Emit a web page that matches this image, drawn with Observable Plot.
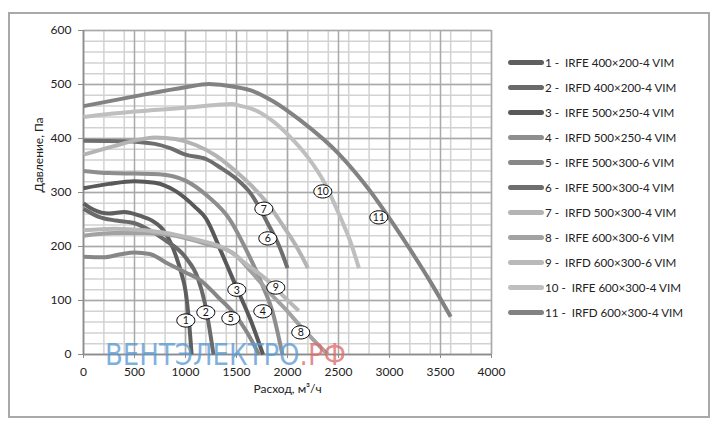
<!DOCTYPE html>
<html><head><meta charset="utf-8">
<script src="https://cdn.jsdelivr.net/npm/d3@7"></script>
<script src="https://cdn.jsdelivr.net/npm/@observablehq/plot@0.6"></script>
<style>
body{margin:0;background:#fff;}
#wrap{position:relative;width:717px;height:425px;font-family:Lato,"Open Sans",sans-serif;overflow:hidden;}
#frame{position:absolute;left:8px;top:12px;width:702px;height:406px;border:2px solid #a9a9a9;box-sizing:border-box;}
#chart{position:absolute;left:0;top:0;}
#legend{position:absolute;left:0;top:0;width:717px;height:425px;pointer-events:none;}
.row{position:absolute;left:508px;height:16px;display:flex;align-items:center;}
.sw{width:36px;height:5px;border-radius:3px;}
.lt{white-space:pre;font-size:11.6px;color:#222;margin-left:1px;}
#wm{position:absolute;left:0;top:0;}
</style>
</head><body>
<div id="wrap"><div id="frame"></div><div id="chart"></div><div id="legend"></div>
<svg id="wm" width="717" height="425"><text x="105" y="365" font-family="'Liberation Sans Narrow','DejaVu Sans Condensed',sans-serif" font-size="30" textLength="241" lengthAdjust="spacingAndGlyphs"><tspan fill="#5b9bd5" fill-opacity="0.78">ВЕНТЭЛЕКТРО</tspan><tspan fill="#e06c6c" fill-opacity="0.78">.РФ</tspan></text></svg>
</div>
<script>
const seriesNames = ["1 -  IRFE 400×200-4 VIM","2 -  IRFD 400×200-4 VIM","3 -  IRFE 500×250-4 VIM","4 -  IRFD 500×250-4 VIM","5 -  IRFE 500×300-6 VIM","6 -  IRFE 500×300-4 VIM","7 -  IRFD 500×300-4 VIM","8 -  IRFE 600×300-6 VIM","9 -  IRFD 600×300-6 VIM","10 -  IRFE 600×300-4 VIM","11 -  IRFD 600×300-4 VIM"];
const seriesColors = ["#5f5f5f","#6a6a6a","#595959","#8e8e8e","#878787","#6e6e6e","#b4b4b4","#a2a2a2","#b9b9b9","#bfbfbf","#828282"];
const curve1 = [[0,280],[100,268],[250,261],[400,264],[550,257],[680,247],[800,226],[900,186],[960,150],[1000,118],[1035,60],[1060,0]];
const curve2 = [[0,270],[150,255],[320,248],[500,243],[650,230],[800,212],[1000,180],[1120,142],[1190,95],[1235,48],[1275,0]];
const curve3 = [[0,308],[250,316],[500,321],[700,318],[900,303],[1100,272],[1200,252],[1350,190],[1500,124],[1640,63],[1760,0]];
const curve4 = [[0,340],[250,336],[500,335],[740,334],[1000,322],[1230,291],[1426,252],[1600,192],[1750,130],[1855,78],[1950,0]];
const curve5 = [[0,181],[200,180],[350,185],[500,189],[650,186],[830,168],[1000,152],[1150,137],[1320,106],[1480,75],[1600,42],[1720,0]];
const curve6 = [[0,396],[400,395],[700,390],[850,382],[1000,370],[1200,362],[1350,345],[1500,325],[1640,298],[1800,245],[1920,200],[2000,160]];
const curve7 = [[0,370],[300,386],[500,396],[700,402],[900,399],[1100,388],[1300,368],[1500,338],[1650,312],[1820,276],[1965,236],[2100,196],[2200,160]];
const curve8 = [[0,220],[300,225],[600,225],[900,220],[1200,205],[1473,187],[1650,152],[1806,118],[2000,80],[2130,52],[2250,28],[2395,0]];
const curve9 = [[0,230],[300,233],[600,230],[900,222],[1100,213],[1400,195],[1600,167],[1806,137],[1950,110],[2110,81]];
const curve10 = [[0,440],[500,450],[1000,457],[1300,462],[1450,464],[1550,460],[1650,455],[1850,433],[2030,402],[2200,365],[2357,320],[2500,262],[2620,207],[2700,160]];
const curve11 = [[0,460],[500,478],[1000,495],[1230,501],[1400,498],[1640,489],[1850,470],[2130,433],[2500,372],[2800,305],[3000,252],[3200,195],[3400,135],[3600,70]];
const curves = [curve1,curve2,curve3,curve4,curve5,curve6,curve7,curve8,curve9,curve10,curve11];
const labelText = ["1","2","3","4","5","6","7","8","9","10","11"];
const labelX = [1003,1199,1503,1758,1444,1807,1768,2130,1885,2346,2895];
const labelY = [63,78,120,80,67,215,270,41,124,302,254];
const xTicks = [0,500,1000,1500,2000,2500,3000,3500,4000];
const yTicks = [0,100,200,300,400,500,600];
const xMinor = d3.range(0, 4001, 200);
const yMinor = d3.range(0, 601, 20);

const lineData = curves.flatMap((c, i) => c.map(([x, y]) => ({x, y, s: i})));
const labels = labelText.map((t, i) => ({t, x: labelX[i], y: labelY[i]}));

const ellipse = {draw(ctx){const rx=9, ry=6.6, k=0.5523;
  ctx.moveTo(rx,0);
  ctx.bezierCurveTo(rx,ry*k,rx*k,ry,0,ry);
  ctx.bezierCurveTo(-rx*k,ry,-rx,ry*k,-rx,0);
  ctx.bezierCurveTo(-rx,-ry*k,-rx*k,-ry,0,-ry);
  ctx.bezierCurveTo(rx*k,-ry,rx,-ry*k,rx,0);
  ctx.closePath();}};

const chart = Plot.plot({
  width: 717, height: 425,
  marginLeft: 83, marginRight: 226, marginTop: 30, marginBottom: 71,
  x: {domain: [0, 4000], label: null},
  y: {domain: [0, 600], label: null},
  style: {fontFamily: "Lato, 'Open Sans', sans-serif", fontSize: "12px", color: "#222", background: "transparent"},
  marks: [
    Plot.ruleX(xMinor, {stroke: "#d2d2d2", strokeWidth: 1.5}),
    Plot.ruleY(yMinor, {stroke: "#d2d2d2", strokeWidth: 1.5}),
    Plot.ruleX(xTicks, {stroke: "#a9a9a9", strokeWidth: 1.5}),
    Plot.ruleY(yTicks, {stroke: "#a9a9a9", strokeWidth: 1.5}),
    Plot.ruleY([0], {stroke: "#8c8c8c", strokeWidth: 1.5}),
    Plot.ruleX([0], {stroke: "#8c8c8c", strokeWidth: 1.5}),
    Plot.axisX({ticks: xTicks, tickSize: 4, tickPadding: 9, stroke: "#8c8c8c", label: null, tickFormat: d => String(d)}),
    Plot.axisY({ticks: yTicks, tickSize: 5, tickPadding: 7, stroke: "#8c8c8c", label: null, tickFormat: d => String(d)}),
    Plot.line(lineData, {x: "x", y: "y", z: "s", stroke: d => seriesColors[d.s], strokeWidth: 4, curve: "monotone-x", strokeLinecap: "butt"}),
    Plot.dot(labels, {x: "x", y: "y", symbol: ellipse, fill: "white", stroke: "black", strokeWidth: 1}),
    Plot.text(labels, {x: "x", y: "y", text: "t", fontSize: 10.5, fill: "#111", dy: 0.5}),
    Plot.text(["Расход, м³/ч"], {frameAnchor: "bottom", dy: 38, fontSize: 12, fill: "#222"}),
    Plot.text(["Давление, Па"], {frameAnchor: "left", dx: -44, rotate: -90, fontSize: 12, fill: "#222"})
  ]
});
document.getElementById("chart").appendChild(chart);

const leg = document.getElementById("legend");
seriesNames.forEach((n, i) => {
  const r = document.createElement("div");
  r.className = "row";
  r.style.top = (54 + 25 * i) + "px";
  r.innerHTML = `<div class="sw" style="background:${seriesColors[i]}"></div><span class="lt">${n}</span>`;
  leg.appendChild(r);
});
</script>
</body></html>
